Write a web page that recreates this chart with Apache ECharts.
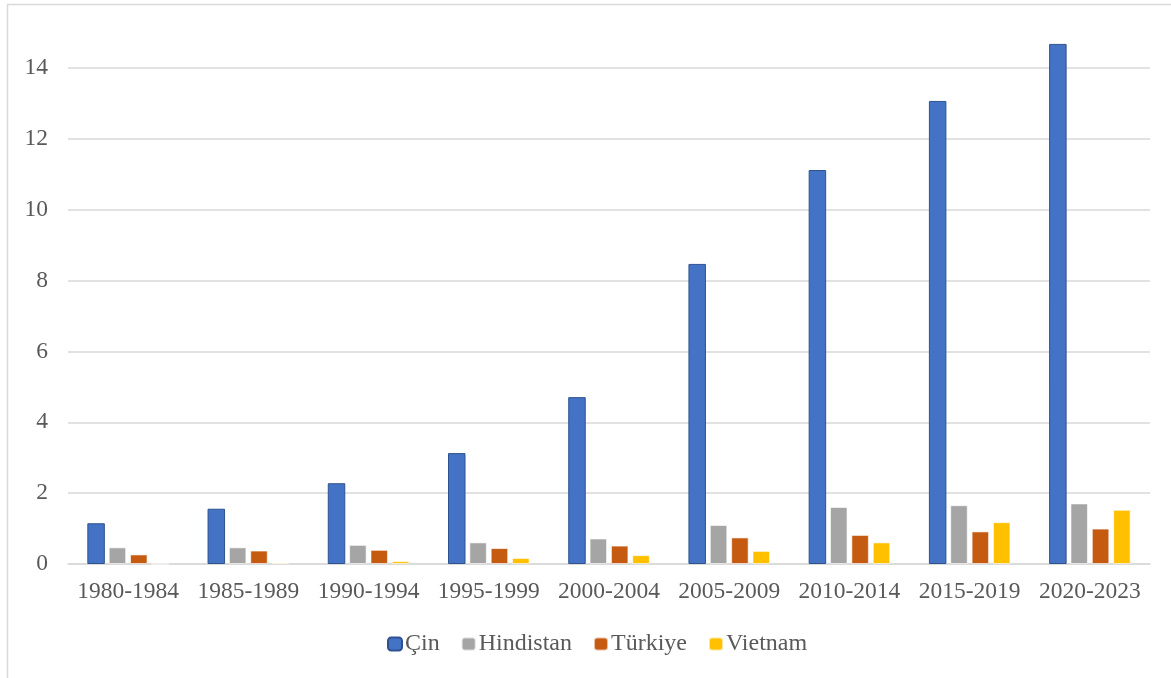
<!DOCTYPE html>
<html><head><meta charset="utf-8">
<script src="https://cdn.jsdelivr.net/npm/echarts@6/dist/echarts.min.js"></script>
<style>html,body{margin:0;padding:0;background:#fff}#c{width:1171px;height:678px}</style>
</head><body><div id="c"></div>
<script>
const categories = ['1980-1984','1985-1989','1990-1994','1995-1999','2000-2004','2005-2009','2010-2014','2015-2019','2020-2023'];
const seriesNames = ['Çin','Hindistan','Türkiye','Vietnam'];
const cin = [1.15, 1.56, 2.28, 3.13, 4.71, 8.47, 11.12, 13.07, 14.68];
const hindistan = [0.47, 0.47, 0.54, 0.61, 0.72, 1.10, 1.61, 1.66, 1.71];
const turkiye = [0.27, 0.38, 0.40, 0.45, 0.52, 0.75, 0.82, 0.92, 1.00];
const vietnam = [0, 0.04, 0.08, 0.17, 0.25, 0.37, 0.61, 1.18, 1.53];
const yTicks = [0, 2, 4, 6, 8, 10, 12, 14];

const colors = ['#4472C4','#A5A5A5','#C55A11','#FFC000'];
const borders = ['#2F528F','rgba(255,255,255,0.6)','rgba(255,255,255,0.6)','rgba(255,255,255,0.6)'];
const data = [cin, hindistan, turkiye, vietnam];
const font = 'Liberation Serif, Times New Roman, serif';

const chart = echarts.init(document.getElementById('c'));
chart.setOption({
  backgroundColor: '#fff',
  animation: false,
  graphic: [{type:'rect', shape:{x:7.5,y:4.5,width:1200,height:700}, style:{fill:'none', stroke:'#d9d9d9', lineWidth:1.5}, silent:true, z:-10}],
  grid: {left: 68, right: 21, top: 68, bottom: 114, containLabel: false},
  legend: {
    data: seriesNames, left: 382, top: 627,
    itemWidth: 14, itemHeight: 13, itemGap: 21,
    textStyle: {fontFamily: font, fontSize: 24, color: '#595959', padding:[0,0,0,-2]}
  },
  xAxis: {
    type: 'category', data: categories,
    axisLine: {show: true, lineStyle: {color: '#d9d9d9', width: 1.5}},
    axisTick: {show: false},
    axisLabel: {fontFamily: font, fontSize: 23.5, color: '#595959', margin: 16, interval: 0}
  },
  yAxis: {
    type: 'value', min: yTicks[0], max: yTicks[yTicks.length-1], interval: 2,
    axisLine: {show: false}, axisTick: {show: false},
    splitLine: {lineStyle: {color: '#d9d9d9', width: 1.5}},
    axisLabel: {fontFamily: font, fontSize: 23.5, color: '#595959', margin: 20}
  },
  series: seriesNames.map((n, i) => ({
    name: n, type: 'bar', data: data[i], clip: false,
    barWidth: 17.5, barGap: '22%',
    itemStyle: {color: colors[i], borderColor: borders[i], borderWidth: 1}
  }))
});
</script></body></html>
